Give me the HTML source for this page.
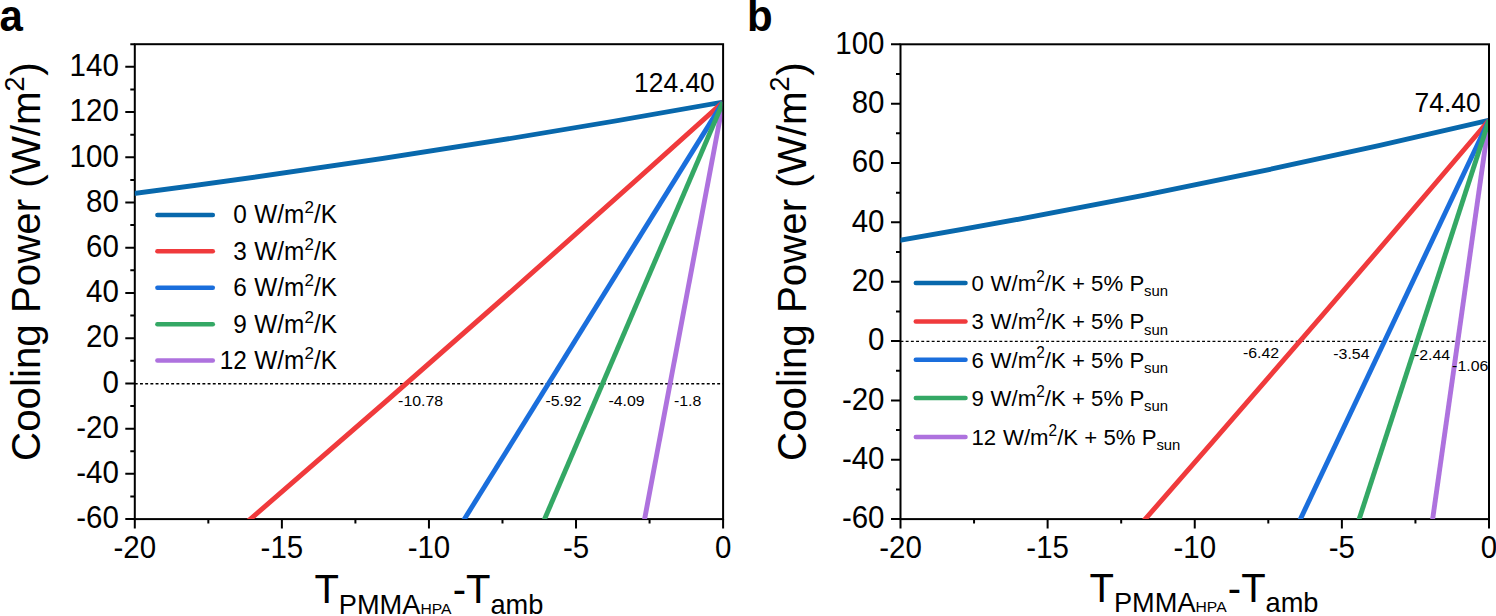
<!DOCTYPE html>
<html><head><meta charset="utf-8"><title>Cooling power</title>
<style>
html,body{margin:0;padding:0;background:#fff;}
svg{display:block;} text{white-space:pre;}
</style></head>
<body>
<svg width="1496" height="616" viewBox="0 0 1496 616" font-family='"Liberation Sans", sans-serif' fill="#000">
<rect width="1496" height="616" fill="#fff"/>
<text transform="translate(-0.6 31) scale(1 1.04)" font-size="42" font-weight="bold">a</text>
<text transform="translate(747.1 31) scale(1 1.04)" font-size="42" font-weight="bold">b</text>
<clipPath id="clipA"><rect x="134.8" y="44.2" width="587.3" height="474.9"/></clipPath>
<line x1="134.8" y1="383.71" x2="723.1" y2="383.71" stroke="#000" stroke-width="1.4" stroke-dasharray="2.9 2.3"/>
<rect x="134.8" y="44.2" width="588.3" height="474.9" fill="none" stroke="#000" stroke-width="2.0"/>
<g clip-path="url(#clipA)" fill="none" stroke-width="4.9" stroke-linejoin="round">
<path d="M643.32 525.88Q683.21 314.12 723.1 102.09" stroke="#ae72de"/>
<path d="M125.98 194.6Q424.54 155.85 723.1 102.09" stroke="#0868ac"/>
<path d="M242.46 525.88Q482.78 318.85 723.1 102.09" stroke="#f03a3c"/>
<path d="M460.17 525.88Q591.63 315.44 723.1 102.09" stroke="#1a6edc"/>
<path d="M541.67 525.88Q632.38 314.68 723.1 102.09" stroke="#34a865"/>
</g>
<path d="M125.3 519.1H134.8M125.3 473.87H134.8M125.3 428.64H134.8M125.3 383.41H134.8M125.3 338.19H134.8M125.3 292.96H134.8M125.3 247.73H134.8M125.3 202.5H134.8M125.3 157.27H134.8M125.3 112.04H134.8M125.3 66.81H134.8M130.3 496.49H134.8M130.3 451.26H134.8M130.3 406.03H134.8M130.3 360.8H134.8M130.3 315.57H134.8M130.3 270.34H134.8M130.3 225.11H134.8M130.3 179.89H134.8M130.3 134.66H134.8M130.3 89.43H134.8M130.3 44.2H134.8M134.8 519.1V528.6M281.88 519.1V528.6M428.95 519.1V528.6M576.02 519.1V528.6M723.1 519.1V528.6M208.34 519.1V523.6M355.41 519.1V523.6M502.49 519.1V523.6M649.56 519.1V523.6" stroke="#000" stroke-width="2.0" fill="none"/>
<text transform="translate(118.8 528.4) scale(1 1.08)" font-size="29.5" text-anchor="end">-60</text>
<text transform="translate(118.8 483.17) scale(1 1.08)" font-size="29.5" text-anchor="end">-40</text>
<text transform="translate(118.8 437.94) scale(1 1.08)" font-size="29.5" text-anchor="end">-20</text>
<text transform="translate(118.8 392.71) scale(1 1.08)" font-size="29.5" text-anchor="end">0</text>
<text transform="translate(118.8 347.49) scale(1 1.08)" font-size="29.5" text-anchor="end">20</text>
<text transform="translate(118.8 302.26) scale(1 1.08)" font-size="29.5" text-anchor="end">40</text>
<text transform="translate(118.8 257.03) scale(1 1.08)" font-size="29.5" text-anchor="end">60</text>
<text transform="translate(118.8 211.8) scale(1 1.08)" font-size="29.5" text-anchor="end">80</text>
<text transform="translate(118.8 166.57) scale(1 1.08)" font-size="29.5" text-anchor="end">100</text>
<text transform="translate(118.8 121.34) scale(1 1.08)" font-size="29.5" text-anchor="end">120</text>
<text transform="translate(118.8 76.11) scale(1 1.08)" font-size="29.5" text-anchor="end">140</text>
<text transform="translate(134.8 557.8) scale(1 1.08)" font-size="29.5" text-anchor="middle">-20</text>
<text transform="translate(281.88 557.8) scale(1 1.08)" font-size="29.5" text-anchor="middle">-15</text>
<text transform="translate(428.95 557.8) scale(1 1.08)" font-size="29.5" text-anchor="middle">-10</text>
<text transform="translate(576.02 557.8) scale(1 1.08)" font-size="29.5" text-anchor="middle">-5</text>
<text transform="translate(723.1 557.8) scale(1 1.08)" font-size="29.5" text-anchor="middle">0</text>
<line x1="157.4" y1="214.9" x2="212.8" y2="214.9" stroke="#0868ac" stroke-width="4.5" stroke-linecap="round"/>
<text transform="translate(246.8 223.2) scale(1 1.02)" font-size="24.4" text-anchor="end">0</text>
<text transform="translate(254.3 223.2) scale(1 1.02)" font-size="24.4">W/m</text>
<text transform="translate(304.43 213.3) scale(1 1.02)" font-size="17">2</text>
<text transform="translate(313.89 223.2) scale(1 1.02)" font-size="24.4">/K</text>
<line x1="157.4" y1="251.2" x2="212.8" y2="251.2" stroke="#f03a3c" stroke-width="4.5" stroke-linecap="round"/>
<text transform="translate(246.8 259.5) scale(1 1.02)" font-size="24.4" text-anchor="end">3</text>
<text transform="translate(254.3 259.5) scale(1 1.02)" font-size="24.4">W/m</text>
<text transform="translate(304.43 249.6) scale(1 1.02)" font-size="17">2</text>
<text transform="translate(313.89 259.5) scale(1 1.02)" font-size="24.4">/K</text>
<line x1="157.4" y1="287.8" x2="212.8" y2="287.8" stroke="#1a6edc" stroke-width="4.5" stroke-linecap="round"/>
<text transform="translate(246.8 296.1) scale(1 1.02)" font-size="24.4" text-anchor="end">6</text>
<text transform="translate(254.3 296.1) scale(1 1.02)" font-size="24.4">W/m</text>
<text transform="translate(304.43 286.2) scale(1 1.02)" font-size="17">2</text>
<text transform="translate(313.89 296.1) scale(1 1.02)" font-size="24.4">/K</text>
<line x1="157.4" y1="324.2" x2="212.8" y2="324.2" stroke="#34a865" stroke-width="4.5" stroke-linecap="round"/>
<text transform="translate(246.8 332.5) scale(1 1.02)" font-size="24.4" text-anchor="end">9</text>
<text transform="translate(254.3 332.5) scale(1 1.02)" font-size="24.4">W/m</text>
<text transform="translate(304.43 322.6) scale(1 1.02)" font-size="17">2</text>
<text transform="translate(313.89 332.5) scale(1 1.02)" font-size="24.4">/K</text>
<line x1="157.4" y1="360.6" x2="212.8" y2="360.6" stroke="#ae72de" stroke-width="4.5" stroke-linecap="round"/>
<text transform="translate(246.8 368.9) scale(1 1.02)" font-size="24.4" text-anchor="end">12</text>
<text transform="translate(254.3 368.9) scale(1 1.02)" font-size="24.4">W/m</text>
<text transform="translate(304.43 359) scale(1 1.02)" font-size="17">2</text>
<text transform="translate(313.89 368.9) scale(1 1.02)" font-size="24.4">/K</text>
<text transform="translate(398.1 406) scale(1 0.95)" font-size="15.9">-10.78</text>
<text transform="translate(545.4 406.4) scale(1 0.95)" font-size="15.9">-5.92</text>
<text transform="translate(608.4 406.4) scale(1 0.95)" font-size="15.9">-4.09</text>
<text transform="translate(673.9 406.4) scale(1 0.95)" font-size="15.9">-1.8</text>
<text transform="translate(714.8 92) scale(1 1.04)" font-size="26.4" text-anchor="end">124.40</text>
<text transform="translate(40.3 460.9) rotate(-90) scale(1 1.02)" font-size="40.3">Cooling Power (W/m</text>
<text transform="translate(23.5 91.39) rotate(-90) scale(1 1.02)" font-size="27">2</text>
<text transform="translate(40.3 75.68) rotate(-90) scale(1 1.02)" font-size="40.3">)</text>
<text transform="translate(314.4 603.4)" font-size="40">T</text>
<text transform="translate(338.83 613.8) scale(1 1.02)" font-size="27.2">PMMA</text>
<text transform="translate(420.43 613.8) scale(1 0.92)" font-size="15.7">HPA</text>
<text transform="translate(452.72 603.4)" font-size="40">-T</text>
<text transform="translate(490.47 613.8) scale(1 1.02)" font-size="27.2">amb</text>
<clipPath id="clipB"><rect x="900.5" y="44.3" width="587.5" height="474.8"/></clipPath>
<line x1="900.5" y1="341.35" x2="1489" y2="341.35" stroke="#000" stroke-width="1.4" stroke-dasharray="2.9 2.3"/>
<rect x="900.5" y="44.3" width="588.5" height="474.8" fill="none" stroke="#000" stroke-width="2.0"/>
<g clip-path="url(#clipB)" fill="none" stroke-width="4.9" stroke-linejoin="round">
<path d="M1431.39 528Q1460.19 324.23 1489 120.27" stroke="#ae72de"/>
<path d="M891.67 241.66Q1190.34 190.81 1489 120.27" stroke="#0868ac"/>
<path d="M1137.43 528Q1313.21 327.55 1489 120.27" stroke="#f03a3c"/>
<path d="M1296.19 528Q1392.59 325.16 1489 120.27" stroke="#1a6edc"/>
<path d="M1356.26 528Q1422.63 324.62 1489 120.27" stroke="#34a865"/>
</g>
<path d="M891 519.1H900.5M891 459.75H900.5M891 400.4H900.5M891 341.05H900.5M891 281.7H900.5M891 222.35H900.5M891 163H900.5M891 103.65H900.5M891 44.3H900.5M896 489.43H900.5M896 430.08H900.5M896 370.73H900.5M896 311.38H900.5M896 252.03H900.5M896 192.68H900.5M896 133.32H900.5M896 73.98H900.5M900.5 519.1V528.6M1047.62 519.1V528.6M1194.75 519.1V528.6M1341.88 519.1V528.6M1489 519.1V528.6M974.06 519.1V523.6M1121.19 519.1V523.6M1268.31 519.1V523.6M1415.44 519.1V523.6" stroke="#000" stroke-width="2.0" fill="none"/>
<text transform="translate(884.5 528.4) scale(1 1.08)" font-size="29.5" text-anchor="end">-60</text>
<text transform="translate(884.5 469.05) scale(1 1.08)" font-size="29.5" text-anchor="end">-40</text>
<text transform="translate(884.5 409.7) scale(1 1.08)" font-size="29.5" text-anchor="end">-20</text>
<text transform="translate(884.5 350.35) scale(1 1.08)" font-size="29.5" text-anchor="end">0</text>
<text transform="translate(884.5 291) scale(1 1.08)" font-size="29.5" text-anchor="end">20</text>
<text transform="translate(884.5 231.65) scale(1 1.08)" font-size="29.5" text-anchor="end">40</text>
<text transform="translate(884.5 172.3) scale(1 1.08)" font-size="29.5" text-anchor="end">60</text>
<text transform="translate(884.5 112.95) scale(1 1.08)" font-size="29.5" text-anchor="end">80</text>
<text transform="translate(884.5 53.6) scale(1 1.08)" font-size="29.5" text-anchor="end">100</text>
<text transform="translate(900.5 557.8) scale(1 1.08)" font-size="29.5" text-anchor="middle">-20</text>
<text transform="translate(1047.62 557.8) scale(1 1.08)" font-size="29.5" text-anchor="middle">-15</text>
<text transform="translate(1194.75 557.8) scale(1 1.08)" font-size="29.5" text-anchor="middle">-10</text>
<text transform="translate(1341.88 557.8) scale(1 1.08)" font-size="29.5" text-anchor="middle">-5</text>
<text transform="translate(1489 557.8) scale(1 1.08)" font-size="29.5" text-anchor="middle">0</text>
<line x1="915.8" y1="282.9" x2="965.5" y2="282.9" stroke="#0868ac" stroke-width="4.5" stroke-linecap="round"/>
<text transform="translate(971.4 290.7) scale(1 1.035)" font-size="22.2">0</text>
<text transform="translate(990.61 290.7) scale(1 1.035)" font-size="22.2">W/m</text>
<text transform="translate(1036.23 281.5) scale(1 1.035)" font-size="15.4">2</text>
<text transform="translate(1044.79 290.7) scale(1 1.035)" font-size="22.2">/K</text>
<text transform="translate(1065.77 290.7) scale(1 1.035)" font-size="22.2"> + 5%</text>
<text transform="translate(1129.42 290.7) scale(1 1.035)" font-size="22.2">P</text>
<text transform="translate(1144.03 296.1) scale(1 1.04)" font-size="14.9">sun</text>
<line x1="915.8" y1="321.5" x2="965.5" y2="321.5" stroke="#f03a3c" stroke-width="4.5" stroke-linecap="round"/>
<text transform="translate(971.4 329.3) scale(1 1.035)" font-size="22.2">3</text>
<text transform="translate(990.61 329.3) scale(1 1.035)" font-size="22.2">W/m</text>
<text transform="translate(1036.23 320.1) scale(1 1.035)" font-size="15.4">2</text>
<text transform="translate(1044.79 329.3) scale(1 1.035)" font-size="22.2">/K</text>
<text transform="translate(1065.77 329.3) scale(1 1.035)" font-size="22.2"> + 5%</text>
<text transform="translate(1129.42 329.3) scale(1 1.035)" font-size="22.2">P</text>
<text transform="translate(1144.03 334.7) scale(1 1.04)" font-size="14.9">sun</text>
<line x1="915.8" y1="359.8" x2="965.5" y2="359.8" stroke="#1a6edc" stroke-width="4.5" stroke-linecap="round"/>
<text transform="translate(971.4 367.6) scale(1 1.035)" font-size="22.2">6</text>
<text transform="translate(990.61 367.6) scale(1 1.035)" font-size="22.2">W/m</text>
<text transform="translate(1036.23 358.4) scale(1 1.035)" font-size="15.4">2</text>
<text transform="translate(1044.79 367.6) scale(1 1.035)" font-size="22.2">/K</text>
<text transform="translate(1065.77 367.6) scale(1 1.035)" font-size="22.2"> + 5%</text>
<text transform="translate(1129.42 367.6) scale(1 1.035)" font-size="22.2">P</text>
<text transform="translate(1144.03 373) scale(1 1.04)" font-size="14.9">sun</text>
<line x1="915.8" y1="398.1" x2="965.5" y2="398.1" stroke="#34a865" stroke-width="4.5" stroke-linecap="round"/>
<text transform="translate(971.4 405.9) scale(1 1.035)" font-size="22.2">9</text>
<text transform="translate(990.61 405.9) scale(1 1.035)" font-size="22.2">W/m</text>
<text transform="translate(1036.23 396.7) scale(1 1.035)" font-size="15.4">2</text>
<text transform="translate(1044.79 405.9) scale(1 1.035)" font-size="22.2">/K</text>
<text transform="translate(1065.77 405.9) scale(1 1.035)" font-size="22.2"> + 5%</text>
<text transform="translate(1129.42 405.9) scale(1 1.035)" font-size="22.2">P</text>
<text transform="translate(1144.03 411.3) scale(1 1.04)" font-size="14.9">sun</text>
<line x1="915.8" y1="437.1" x2="965.5" y2="437.1" stroke="#ae72de" stroke-width="4.5" stroke-linecap="round"/>
<text transform="translate(971.4 444.9) scale(1 1.035)" font-size="22.2">12</text>
<text transform="translate(1002.96 444.9) scale(1 1.035)" font-size="22.2">W/m</text>
<text transform="translate(1048.58 435.7) scale(1 1.035)" font-size="15.4">2</text>
<text transform="translate(1057.14 444.9) scale(1 1.035)" font-size="22.2">/K</text>
<text transform="translate(1078.11 444.9) scale(1 1.035)" font-size="22.2"> + 5%</text>
<text transform="translate(1141.77 444.9) scale(1 1.035)" font-size="22.2">P</text>
<text transform="translate(1156.38 450.3) scale(1 1.04)" font-size="14.9">sun</text>
<text transform="translate(1242.9 357.5) scale(1 0.95)" font-size="15.9">-6.42</text>
<text transform="translate(1333.3 359) scale(1 0.95)" font-size="15.9">-3.54</text>
<text transform="translate(1413.9 359.9) scale(1 0.95)" font-size="15.9">-2.44</text>
<text transform="translate(1452.1 370.5) scale(1 0.95)" font-size="15.9">-1.06</text>
<text transform="translate(1480.6 111.7) scale(1 1.04)" font-size="26.4" text-anchor="end">74.40</text>
<text transform="translate(806.1 460.9) rotate(-90) scale(1 1.02)" font-size="40.3">Cooling Power (W/m</text>
<text transform="translate(789.3 91.39) rotate(-90) scale(1 1.02)" font-size="27">2</text>
<text transform="translate(806.1 75.68) rotate(-90) scale(1 1.02)" font-size="40.3">)</text>
<text transform="translate(1089.5 601.8)" font-size="40">T</text>
<text transform="translate(1113.93 612.2) scale(1 1.02)" font-size="27.2">PMMA</text>
<text transform="translate(1195.53 612.2) scale(1 0.92)" font-size="15.7">HPA</text>
<text transform="translate(1227.82 601.8)" font-size="40">-T</text>
<text transform="translate(1265.57 612.2) scale(1 1.02)" font-size="27.2">amb</text>
</svg>
</body></html>
